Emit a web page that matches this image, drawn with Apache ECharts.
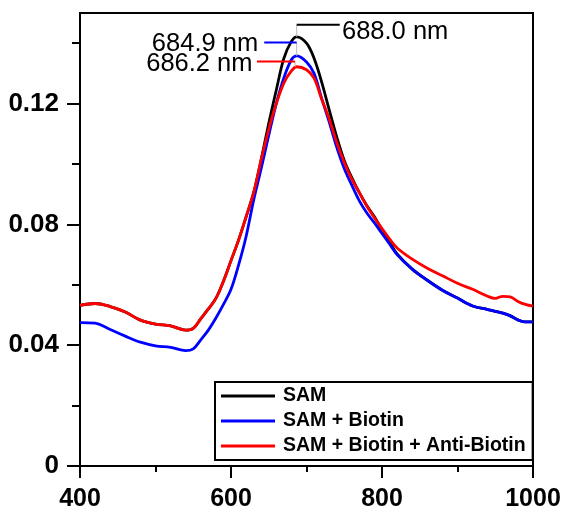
<!DOCTYPE html>
<html><head><meta charset="utf-8">
<script src="https://cdn.jsdelivr.net/npm/echarts@6/dist/echarts.min.js"></script>
<style>html,body{margin:0;padding:0;background:#fff}#c{width:564px;height:514px}</style>
</head><body><div id="c"></div>
<script>
const wavelengths = [400,420,440,460,480,500,520,540,550,560,570,580,590,600,610,620,630,640,650,660,670,680,687,700,710,720,730,740,750,760,770,780,790,800,810,820,840,860,880,900,920,940,950,960,970,980,990,1000];
const samBiotin = [0.0475,0.0473,0.0452,0.0430,0.0410,0.0398,0.0393,0.0382,0.0388,0.0418,0.0450,0.0490,0.0535,0.0585,0.0665,0.0760,0.0880,0.0985,0.1095,0.1200,0.1285,0.1345,0.1358,0.1338,0.1300,0.1218,0.1140,0.1056,0.0985,0.0930,0.0878,0.0838,0.0805,0.0770,0.0735,0.0700,0.0652,0.0615,0.0582,0.0556,0.0530,0.0518,0.0512,0.0506,0.0497,0.0484,0.0477,0.0477];
const samBiotinAnti = [0.0532,0.0538,0.0528,0.0510,0.0483,0.0470,0.0464,0.0450,0.0456,0.0488,0.0520,0.0555,0.0612,0.0680,0.0748,0.0825,0.0905,0.1015,0.1115,0.1200,0.1268,0.1308,0.1322,0.1312,0.1284,0.1215,0.1150,0.1072,0.1005,0.0950,0.0905,0.0860,0.0822,0.0786,0.0752,0.0722,0.0685,0.0655,0.0630,0.0605,0.0585,0.0562,0.0555,0.0562,0.0560,0.0545,0.0535,0.0529];
const sam = [0.0532,0.0538,0.0528,0.0510,0.0483,0.0470,0.0464,0.0450,0.0456,0.0488,0.0520,0.0555,0.0612,0.0680,0.0748,0.0825,0.0905,0.1015,0.1135,0.1245,0.1350,0.1406,0.1421,0.1400,0.1350,0.1272,0.1180,0.1090,0.1012,0.0955,0.0905,0.0862,0.0825,0.0782,0.0742,0.0702,0.0652,0.0615,0.0582,0.0556,0.0530,0.0518,0.0512,0.0506,0.0497,0.0484,0.0477,0.0477];
const seriesNames = ['SAM','SAM + Biotin','SAM + Biotin + Anti-Biotin'];
const yMajorTicks = [0,0.04,0.08,0.12];
const yMinorTicks = [0.02,0.06,0.10,0.14];
// peak annotations (data space)
const peakLabels = ['688.0 nm','684.9 nm','686.2 nm'];
const peakX = [687,687,684.8];
const peakY = [0.1421,0.1358,0.1322];
const connY = [0.1461,0.1402,0.1339];
const connEndX = [744,644,634.4];
const textX = [747,636,628.5];
const textY = [0.1436,0.1398,0.1331];
const colors = ['#000000','#0000ff','#ff0000'];

const chart = echarts.init(document.getElementById('c'), null, {renderer:'canvas'});
const font = "'Liberation Sans', Arial, sans-serif";
const mk = arr => wavelengths.map((w,i)=>[w,arr[i]]);
const option = {
  animation:false,
  backgroundColor:'#fff',
  grid:{left:80,right:31,top:13,bottom:48,show:true,borderColor:'#000',borderWidth:2,backgroundColor:'transparent'},
  legend:{
    orient:'vertical', left:215, top:382,
    data:seriesNames,
    icon:'rect', itemWidth:54, itemHeight:3, itemGap:5,
    padding:[4,7,4,6],
    borderColor:'#000', borderWidth:2, backgroundColor:'#fff',
    textStyle:{fontFamily:font,fontWeight:'bold',fontSize:19.5,color:'#000',lineHeight:20,padding:[0,0,0,3]}
  },
  xAxis:{
    type:'value', min:400, max:1000, interval:200,
    axisLine:{show:true,lineStyle:{color:'#000',width:2}},
    axisTick:{show:true,length:12,lineStyle:{color:'#000',width:2}},
    minorTick:{show:true,splitNumber:2,length:6,lineStyle:{color:'#000',width:2}},
    splitLine:{show:false},
    axisLabel:{fontFamily:font,fontWeight:'bold',fontSize:25,color:'#000',margin:21,formatter:v=>String(v)}
  },
  yAxis:[{
    type:'value', min:0, max:0.15, position:'left',
    axisLine:{show:true,lineStyle:{color:'#000',width:2}},
    axisTick:{show:true,length:13,customValues:yMajorTicks,lineStyle:{color:'#000',width:2}},
    splitLine:{show:false},
    axisLabel:{customValues:yMajorTicks,fontFamily:font,fontWeight:'bold',fontSize:26,color:'#000',margin:21,
      formatter:v=> v===0?'0':v.toFixed(2)}
  },{
    type:'value', min:0, max:0.15, position:'left',
    axisLine:{show:false},
    axisTick:{show:true,length:8,customValues:yMinorTicks,lineStyle:{color:'#000',width:2}},
    splitLine:{show:false},
    axisLabel:{show:false}
  }],
  series:[
    {name:seriesNames[0],type:'line',data:mk(sam),smooth:0.35,showSymbol:false,symbol:'none',lineStyle:{color:colors[0],width:2.8},itemStyle:{color:colors[0]},z:2},
    {name:seriesNames[1],type:'line',data:mk(samBiotin),smooth:0.35,showSymbol:false,symbol:'none',lineStyle:{color:colors[1],width:2.8},itemStyle:{color:colors[1]},z:3},
    {name:seriesNames[2],type:'line',data:mk(samBiotinAnti),smooth:0.35,showSymbol:false,symbol:'none',lineStyle:{color:colors[2],width:2.8},itemStyle:{color:colors[2]},z:4}
  ]
};
chart.setOption(option);
const g = [];
for (let i=0;i<3;i++){
  const p = chart.convertToPixel({gridIndex:0},[peakX[i],peakY[i]]);
  const c = chart.convertToPixel({gridIndex:0},[peakX[i],connY[i]]);
  const e = chart.convertToPixel({gridIndex:0},[connEndX[i],connY[i]]);
  const t = chart.convertToPixel({gridIndex:0},[textX[i],textY[i]]);
  g.push({type:'line',shape:{x1:c[0],y1:c[1],x2:p[0],y2:p[1]},style:{stroke:'#bbbbbb',lineWidth:1},z:10});
  g.push({type:'line',shape:{x1:c[0],y1:c[1],x2:e[0],y2:e[1]},style:{stroke:colors[i],lineWidth:2},z:10});
  g.push({type:'text',x:t[0],y:t[1],style:{text:peakLabels[i],font:"25.5px 'Liberation Sans', Arial, sans-serif",fill:'#000',textAlign:i===0?'left':'right',textVerticalAlign:'middle'},z:10});
}
chart.setOption({graphic:g});
</script></body></html>
